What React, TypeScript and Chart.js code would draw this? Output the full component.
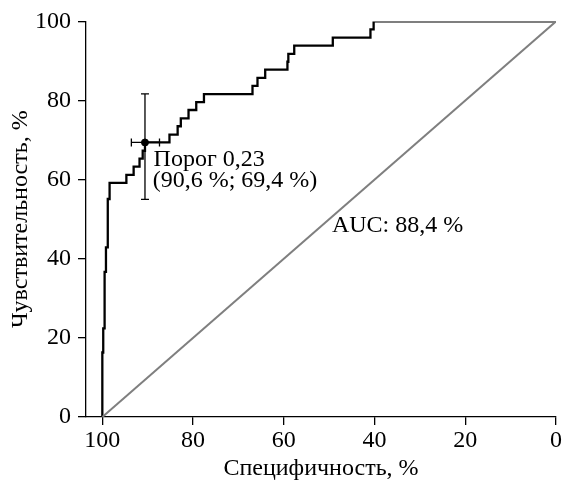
import React, { useEffect, useRef } from "react";
import { Chart, registerables } from "chart.js";

Chart.register(...registerables);

// ROC curve corners (step "after": vertical first, then horizontal)
const rocSpecificity = [100, 99.8, 99.5, 99.2, 98.8, 98.4, 94.7, 93.1, 91.8, 91.1, 90.6, 85.2, 83.4, 82.7, 81.0, 79.3, 77.6, 66.9, 65.8, 64.1, 59.2, 59.0, 57.7, 49.2, 40.9, 40.2, 0];
const rocSensitivity = [0, 16.3, 22.4, 36.7, 42.9, 55.1, 59.2, 61.2, 63.3, 65.3, 67.3, 69.4, 71.4, 73.5, 75.5, 77.6, 79.6, 81.6, 83.7, 85.7, 87.8, 89.8, 91.8, 93.9, 95.9, 98.0, 100];

const diagonalSpecificity = [100, 0];
const diagonalSensitivity = [0, 100];

const thresholdSpecificity = 90.6;
const thresholdSensitivity = 69.4;
const ciSpecificity = [93.6, 87.4];
const ciSensitivity = [55.0, 81.7];

const xTicks = [100, 80, 60, 40, 20, 0];
const yTicks = [0, 20, 40, 60, 80, 100];

const xTitle = "Специфичность, %";
const yTitle = "Чувствительность, %";
const thresholdLabel = ["Порог 0,23", "(90,6 %; 69,4 %)"];
const aucLabel = "AUC: 88,4 %";

const FONT = "'Liberation Serif', 'Times New Roman', serif";
const SIZE = 24;

export default function App() {
  const ref = useRef<HTMLCanvasElement | null>(null);

  useEffect(() => {
    if (!ref.current) return;

    const overlay = {
      id: "overlay",
      beforeDatasetsDraw(chart: any) {
        const { ctx, scales } = chart;
        const x = scales.x;
        const y = scales.y;
        const px = x.getPixelForValue(thresholdSpecificity);
        const py = y.getPixelForValue(thresholdSensitivity);
        const cap = 4;
        ctx.save();
        ctx.strokeStyle = "#000";
        ctx.lineWidth = 1.3;
        ctx.beginPath();
        const y1 = y.getPixelForValue(ciSensitivity[0]);
        const y2 = y.getPixelForValue(ciSensitivity[1]);
        ctx.moveTo(px, y1);
        ctx.lineTo(px, y2);
        ctx.moveTo(px - cap, y1);
        ctx.lineTo(px + cap, y1);
        ctx.moveTo(px - cap, y2);
        ctx.lineTo(px + cap, y2);
        const x1 = x.getPixelForValue(ciSpecificity[0]);
        const x2 = x.getPixelForValue(ciSpecificity[1]);
        ctx.moveTo(x1, py);
        ctx.lineTo(x2, py);
        ctx.moveTo(x1, py - cap);
        ctx.lineTo(x1, py + cap);
        ctx.moveTo(x2, py - cap);
        ctx.lineTo(x2, py + cap);
        ctx.stroke();
        ctx.restore();
      },
      afterDatasetsDraw(chart: any) {
        const { ctx, scales } = chart;
        const x = scales.x;
        const y = scales.y;
        ctx.save();
        ctx.fillStyle = "#000";
        ctx.font = `${SIZE}px ${FONT}`;
        ctx.textAlign = "left";
        ctx.textBaseline = "alphabetic";
        ctx.fillText(thresholdLabel[0], x.getPixelForValue(88.7), y.getPixelForValue(63.5));
        ctx.fillText(thresholdLabel[1], x.getPixelForValue(88.9), y.getPixelForValue(58.1));
        ctx.fillText(aucLabel, x.getPixelForValue(49.4), y.getPixelForValue(46.7));
        ctx.restore();
      },
    };

    const chart = new Chart(ref.current, {
      type: "line",
      data: {
        datasets: [
          {
            label: "diagonal",
            data: diagonalSpecificity.map((v, i) => ({ x: v, y: diagonalSensitivity[i] })),
            borderColor: "#7f7f7f",
            borderWidth: 2,
            pointRadius: 0,
            fill: false,
          },
          {
            label: "ROC",
            data: rocSpecificity.map((v, i) => ({ x: v, y: rocSensitivity[i] })),
            borderColor: "#000",
            borderWidth: 2.3,
            pointRadius: 0,
            stepped: "after",
            fill: false,
          },
          {
            label: "threshold",
            data: [{ x: thresholdSpecificity, y: thresholdSensitivity }],
            borderColor: "#000",
            backgroundColor: "#000",
            pointRadius: 3.5,
            showLine: false,
          },
        ],
      },
      options: {
        responsive: false,
        animation: false,
        layout: { padding: { left: 0, top: 17, right: 5, bottom: 0 } },
        plugins: {
          legend: { display: false },
          tooltip: { enabled: false },
        },
        scales: {
          x: {
            type: "linear",
            reverse: true,
            min: 0,
            max: 103.6,
            afterBuildTicks: (s: any) => {
              s.ticks = xTicks.map((v) => ({ value: v }));
            },
            afterFit: (s: any) => {
              s.height = 67;
            },
            grid: { drawOnChartArea: false, drawTicks: true, tickLength: 8, color: "#000", lineWidth: 1.3 },
            border: { display: true, color: "#000", width: 1.3 },
            ticks: {
              color: "#000",
              font: { family: FONT, size: SIZE },
              padding: 1,
              maxRotation: 0,
            },
            title: {
              display: true,
              text: xTitle,
              color: "#000",
              font: { family: FONT, size: SIZE },
              padding: { top: 0, bottom: 1 },
            },
          },
          y: {
            type: "linear",
            min: 0,
            max: 100,
            afterBuildTicks: (s: any) => {
              s.ticks = yTicks.map((v) => ({ value: v }));
            },
            afterFit: (s: any) => {
              s.width = 86;
            },
            grid: { drawOnChartArea: false, drawTicks: true, tickLength: 8, color: "#000", lineWidth: 1.3 },
            border: { display: true, color: "#000", width: 1.3 },
            ticks: {
              color: "#000",
              font: { family: FONT, size: SIZE },
              padding: 7,
            },
            title: {
              display: true,
              text: yTitle,
              color: "#000",
              font: { family: FONT, size: SIZE },
              padding: { top: 6, bottom: 0 },
            },
          },
        },
      },
      plugins: [overlay],
    });

    return () => chart.destroy();
  }, []);

  return (
    <div style={{ position: "absolute", left: 0, top: 0, width: 563, height: 484 }}>
      <canvas ref={ref} width={563} height={484} style={{ display: "block" }} />
    </div>
  );
}
